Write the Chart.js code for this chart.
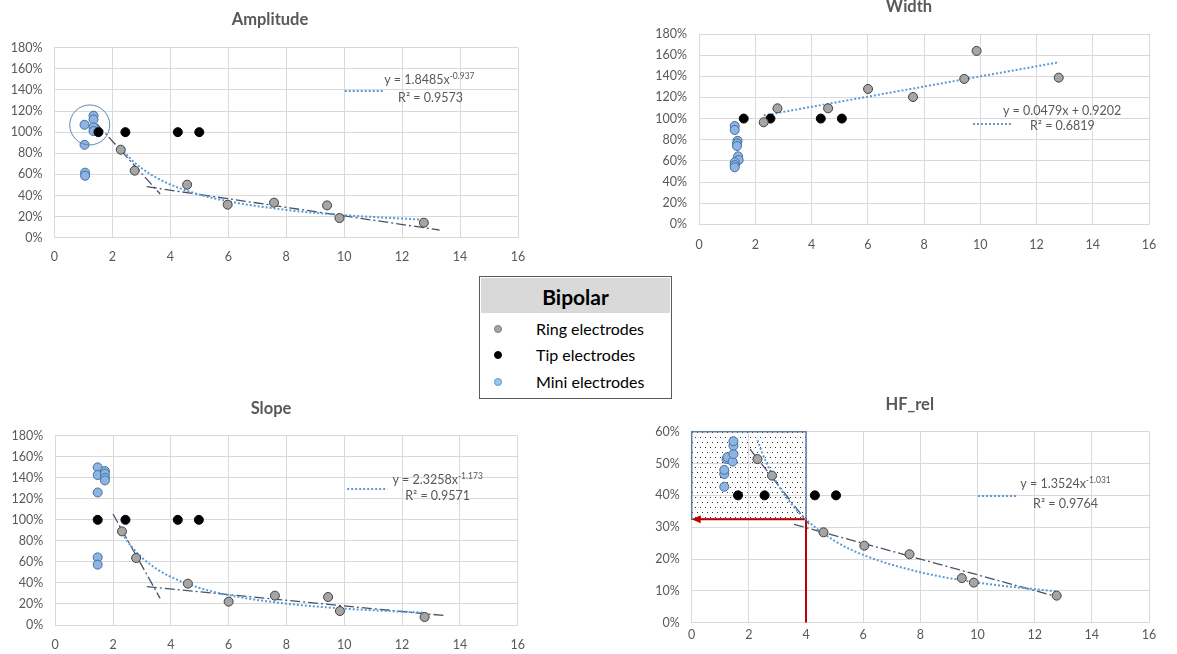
<!DOCTYPE html>
<html>
<head>
<meta charset="utf-8">
<script src="https://cdn.jsdelivr.net/npm/chart.js@4"></script>
<style>
  body { margin: 0; background: #fff; width: 1177px; height: 654px; position: relative; overflow: hidden; font-family: Lato, sans-serif; }
  canvas { position: absolute; }
  #legend { position: absolute; left: 479px; top: 276px; width: 191px; height: 121px; border: 1px solid #595959; background: #fff; }
  #legend .head { margin: 1px; height: 35px; background: #d9d9d9; font-weight: bold; font-size: 21px; text-align: center; line-height: 37px; color: #000; }
  #legend .row { position: absolute; left: 0; height: 20px; line-height: 20px; font-size: 16px; color: #000; }
  #legend .dot { position: absolute; left: 14px; top: 6px; width: 6px; height: 6px; border-radius: 50%; }
  #legend .txt { position: absolute; left: 56px; white-space: nowrap; }
</style>
</head>
<body>
<canvas id="amp" width="540" height="270" style="left:0;top:0"></canvas>
<canvas id="wid" width="528" height="270" style="left:645px;top:-10px"></canvas>
<canvas id="slo" width="542" height="269" style="left:0;top:385px"></canvas>
<canvas id="hfr" width="543" height="269" style="left:638px;top:385px"></canvas>

<div id="legend">
  <div class="head">Bipolar</div>
  <div class="row" style="top:42px"><span class="dot" style="background:#a5a5a5;border:1px solid #7f7f7f"></span><span class="txt">Ring electrodes</span></div>
  <div class="row" style="top:68px"><span class="dot" style="background:#000;border:1px solid #000"></span><span class="txt">Tip electrodes</span></div>
  <div class="row" style="top:95px"><span class="dot" style="background:#9dc3e6;border:1px solid #5b9bd5"></span><span class="txt">Mini electrodes</span></div>
</div>

<script>
// ---- Amplitude ----
const ampMiniX = [1.04, 1.04, 1.06, 1.06, 1.35, 1.35, 1.35, 1.35];
const ampMiniY = [1.07, 0.88, 0.616, 0.587, 1.156, 1.12, 1.045, 1.01];
const ampTipX = [1.52, 2.45, 4.26, 5.0];
const ampTipY = [1, 1, 1, 1];
const ampRingX = [2.29, 2.77, 4.58, 5.98, 7.58, 9.41, 9.84, 12.75];
const ampRingY = [0.834, 0.635, 0.502, 0.313, 0.332, 0.306, 0.186, 0.142];
const ampFitX = [2.3, 2.6, 3, 3.5, 4, 5, 6, 8, 10, 12.75];
const ampFitY = [0.847, 0.755, 0.66, 0.572, 0.504, 0.409, 0.345, 0.263, 0.214, 0.17];
const ampSeg1X = [1.46, 3.65], ampSeg1Y = [1.08, 0.414];
const ampSeg2X = [3.19, 13.29], ampSeg2Y = [0.483, 0.073];

// ---- Width ----
const widMiniX = [1.27, 1.27, 1.37, 1.35, 1.35, 1.39, 1.41, 1.27, 1.27, 1.27];
const widMiniY = [0.93, 0.892, 0.79, 0.765, 0.74, 0.643, 0.608, 0.586, 0.56, 0.539];
const widTipX = [1.59, 2.54, 4.33, 5.08];
const widTipY = [1, 1, 1, 1];
const widRingX = [2.3, 2.79, 4.59, 6.01, 7.61, 9.43, 9.87, 12.79];
const widRingY = [0.965, 1.097, 1.097, 1.28, 1.204, 1.375, 1.64, 1.387];
const widFitX = [2.3, 12.8];
const widFitY = [1.03, 1.533];

// ---- Slope ----
const sloMiniX = [1.47, 1.47, 1.47, 1.47, 1.47, 1.72, 1.72, 1.72, 1.72];
const sloMiniY = [1.499, 1.426, 1.26, 0.643, 0.574, 1.464, 1.439, 1.4, 1.375];
const sloTipX = [1.47, 2.43, 4.24, 4.97];
const sloTipY = [1, 1, 1, 1];
const sloRingX = [2.31, 2.8, 4.59, 6.0, 7.6, 9.44, 9.85, 12.78];
const sloRingY = [0.89, 0.637, 0.393, 0.222, 0.279, 0.266, 0.133, 0.076];
const sloFitX = [2.31, 2.6, 3, 3.5, 4, 5, 6, 8, 10, 12.78];
const sloFitY = [0.871, 0.758, 0.641, 0.535, 0.4575, 0.352, 0.284, 0.203, 0.156, 0.117];
const sloSeg1X = [2.0, 3.63], sloSeg1Y = [1.055, 0.253];
const sloSeg2X = [3.17, 13.49], sloSeg2Y = [0.364, 0.089];

// ---- HF_rel ----
const hfMiniX = [1.14, 1.14, 1.14, 1.22, 1.25, 1.43, 1.46, 1.46, 1.46];
const hfMiniY = [0.427, 0.467, 0.48, 0.514, 0.52, 0.506, 0.53, 0.556, 0.57];
const hfTipX = [1.62, 2.55, 4.31, 5.05];
const hfTipY = [0.4, 0.4, 0.4, 0.4];
const hfRingX = [2.3, 2.81, 4.61, 6.04, 7.62, 9.45, 9.87, 12.77];
const hfRingY = [0.514, 0.462, 0.284, 0.242, 0.215, 0.14, 0.126, 0.085];
const hfFitX = [2.3, 2.6, 3, 3.5, 4, 5, 6, 8, 10, 12.77];
const hfFitY = [0.573, 0.505, 0.436, 0.372, 0.324, 0.257, 0.213, 0.1585, 0.126, 0.098];
const hfSeg1X = [2.04, 4.1], hfSeg1Y = [0.545, 0.31];
const hfSeg2X = [3.58, 12.77], hfSeg2Y = [0.309, 0.082];
const hfArrowX = [4, 4, 0.15];
const hfArrowY = [0, 0.325, 0.325];

const xTicks = [0, 2, 4, 6, 8, 10, 12, 14, 16];

Chart.defaults.font.family = "Lato";
Chart.defaults.color = "#595959";

const pts = (xs, ys) => xs.map((x, i) => ({ x, y: ys[i] }));

const marker = (data, bg, border, order) => ({
  data, backgroundColor: bg, borderColor: border, borderWidth: 1,
  pointRadius: 4.5, pointHoverRadius: 4.5, showLine: false, order,
});
const fitLine = (data) => ({
  data, borderColor: "#5b9bd5", borderWidth: 2, borderDash: [2, 2],
  pointRadius: 0, showLine: true, cubicInterpolationMode: "monotone", order: 3,
});
const dashDot = (data) => ({
  data, borderColor: "#44546a", borderWidth: 1.3, borderDash: [10, 3, 2, 3],
  pointRadius: 0, showLine: true, order: 4,
});

// title, trendline label, sample line, circle, dotted box
const extras = (ex) => ({
  id: "extras",
  beforeDatasetsDraw(chart) {
    const { ctx, scales: { x, y } } = chart;
    if (ex.box) {
      const p = document.createElement("canvas");
      p.width = 10; p.height = 10;
      const pc = p.getContext("2d");
      pc.fillStyle = "#333";
      pc.fillRect(2, 2, 1, 1);
      pc.fillRect(7, 2, 1, 1);
      pc.fillRect(4, 7, 1, 1);
      pc.fillRect(9, 7, 1, 1);
      const l = x.getPixelForValue(ex.box[0]), r = x.getPixelForValue(ex.box[1]);
      const t = y.getPixelForValue(ex.box[3]), b = y.getPixelForValue(ex.box[2]);
      ctx.save();
      ctx.fillStyle = ctx.createPattern(p, "repeat");
      ctx.fillRect(l, t, r - l, b - t);
      ctx.strokeStyle = "#5a7da3";
      ctx.lineWidth = 1.5;
      ctx.strokeRect(l, t, r - l, b - t);
      ctx.restore();
    }
  },
  afterDatasetsDraw(chart) {
    const { ctx, scales: { x, y } } = chart;
    ctx.save();
    if (ex.circle) {
      ctx.beginPath();
      ctx.arc(x.getPixelForValue(ex.circle[0]), y.getPixelForValue(ex.circle[1]), ex.circle[2], 0, Math.PI * 2);
      ctx.strokeStyle = "#5b87b5";
      ctx.lineWidth = 1;
      ctx.stroke();
    }
    if (ex.arrow) {
      const ax = x.getPixelForValue(ex.arrow[0]), ay = y.getPixelForValue(ex.arrow[1]);
      ctx.beginPath();
      ctx.moveTo(ax, ay);
      ctx.lineTo(ax + 9, ay - 4);
      ctx.lineTo(ax + 9, ay + 4);
      ctx.closePath();
      ctx.fillStyle = "#c00000";
      ctx.fill();
    }
    const s = ex.sample;
    ctx.beginPath();
    ctx.setLineDash([2, 2]);
    ctx.strokeStyle = "#5b9bd5";
    ctx.lineWidth = 2;
    const sy = Math.round(y.getPixelForValue(s[2]));
    ctx.moveTo(x.getPixelForValue(s[0]), sy);
    ctx.lineTo(x.getPixelForValue(s[1]), sy);
    ctx.stroke();
    ctx.setLineDash([]);

    ctx.fillStyle = "#595959";
    ctx.textBaseline = "middle";

    // chart title
    ctx.textAlign = "center";
    ctx.font = "bold 16.5px Lato";
    ctx.fillText(ex.title, ex.titleAt[0], ex.titleAt[1]);

    ctx.textAlign = "left";
    const cx = x.getPixelForValue(ex.eqAt[0]), cy = y.getPixelForValue(ex.eqAt[1]);
    ctx.font = "12.5px Lato";
    const w1 = ctx.measureText(ex.eq).width;
    ctx.font = "8.5px Lato";
    const w2 = ex.sup ? ctx.measureText(ex.sup).width : 0;
    const x0 = cx - (w1 + w2) / 2;
    ctx.font = "12.5px Lato";
    ctx.fillText(ex.eq, x0, cy);
    if (ex.sup) {
      ctx.font = "8.5px Lato";
      ctx.fillText(ex.sup, x0 + w1, cy - 4);
    }
    ctx.font = "12.5px Lato";
    ctx.textAlign = "center";
    ctx.fillText(ex.r2, x.getPixelForValue(ex.r2At[0]), y.getPixelForValue(ex.r2At[1]));
    ctx.restore();
  },
});

const makeChart = (id, cfg) => new Chart(document.getElementById(id), {
  type: "scatter",
  data: { datasets: cfg.datasets },
  options: {
    responsive: false,
    animation: false,
    events: [],
    layout: { padding: { left: 0, right: cfg.right, top: cfg.top, bottom: 0 } },
    plugins: {
      legend: { display: false },
      tooltip: { enabled: false },
      title: { display: false },
    },
    scales: {
      x: {
        type: "linear", min: 0, max: 16,
        afterBuildTicks: (s) => { s.ticks = xTicks.map((v) => ({ value: v })); },
        afterFit: (s) => { s.height = cfg.xHeight; },
        grid: { color: "#d9d9d9", drawTicks: false },
        border: { color: "#d9d9d9" },
        ticks: { padding: cfg.xPad, font: { size: 12.5 }, color: "#595959", maxRotation: 0 },
      },
      y: {
        min: 0, max: cfg.yMax,
        afterFit: (s) => { s.width = cfg.yWidth; },
        grid: { color: "#d9d9d9", drawTicks: false },
        border: { color: "#d9d9d9" },
        ticks: {
          stepSize: cfg.yStep, padding: 12, font: { size: 12.5 }, color: "#595959",
          callback: (v) => Math.round(v * 100) + "%",
        },
      },
    },
  },
  plugins: [extras(cfg.extras)],
});

makeChart("amp", {
  right: 22, top: 47.7,
  xHeight: 32.3, xPad: 12, yWidth: 54.4, yMax: 1.8, yStep: 0.2,
  datasets: [
    marker(pts(ampRingX, ampRingY), "#a5a5a5", "#404040", 0),
    marker(pts(ampTipX, ampTipY), "#000000", "#000000", 1),
    marker(pts(ampMiniX, ampMiniY), "#8eb4e3", "#41719c", 2),
    fitLine(pts(ampFitX, ampFitY)),
    dashDot(pts(ampSeg1X, ampSeg1Y)),
    dashDot(pts(ampSeg2X, ampSeg2Y)),
  ],
  extras: {
    title: "Amplitude", titleAt: [270, 20],
    eq: "y = 1.8485x", sup: "-0.937", eqAt: [12.94, 1.494],
    r2: "R² = 0.9573", r2At: [12.98, 1.323], sample: [10.02, 11.4, 1.39],
    circle: [1.22, 1.068, 20],
  },
});

makeChart("wid", {
  right: 24, top: 44,
  xHeight: 35.7, xPad: 13.5, yWidth: 54, yMax: 1.8, yStep: 0.2,
  datasets: [
    marker(pts(widRingX, widRingY), "#a5a5a5", "#404040", 0),
    marker(pts(widTipX, widTipY), "#000000", "#000000", 1),
    marker(pts(widMiniX, widMiniY), "#8eb4e3", "#41719c", 2),
    fitLine(pts(widFitX, widFitY)),
  ],
  extras: {
    title: "Width", titleAt: [264, 17],
    eq: "y = 0.0479x + 0.9202", sup: "", eqAt: [12.91, 1.072],
    r2: "R² = 0.6819", r2At: [12.92, 0.929], sample: [9.74, 11.09, 0.95],
  },
});

makeChart("slo", {
  right: 24.3, top: 50.7,
  xHeight: 29, xPad: 12, yWidth: 55.2, yMax: 1.8, yStep: 0.2,
  datasets: [
    marker(pts(sloRingX, sloRingY), "#a5a5a5", "#404040", 0),
    marker(pts(sloTipX, sloTipY), "#000000", "#000000", 1),
    marker(pts(sloMiniX, sloMiniY), "#8eb4e3", "#41719c", 2),
    fitLine(pts(sloFitX, sloFitY)),
    dashDot(pts(sloSeg1X, sloSeg1Y)),
    dashDot(pts(sloSeg2X, sloSeg2Y)),
  ],
  extras: {
    title: "Slope", titleAt: [271, 24],
    eq: "y = 2.3258x", sup: "-1.173", eqAt: [13.23, 1.379],
    r2: "R² = 0.9571", r2At: [13.23, 1.227], sample: [10.1, 11.49, 1.293],
  },
});

makeChart("hfr", {
  right: 32, top: 46.7,
  xHeight: 31.3, xPad: 5, yWidth: 53.7, yMax: 0.6, yStep: 0.1,
  datasets: [
    marker(pts(hfRingX, hfRingY), "#a5a5a5", "#404040", 0),
    marker(pts(hfTipX, hfTipY), "#000000", "#000000", 1),
    marker(pts(hfMiniX, hfMiniY), "#8eb4e3", "#41719c", 2),
    fitLine(pts(hfFitX, hfFitY)),
    dashDot(pts(hfSeg1X, hfSeg1Y)),
    dashDot(pts(hfSeg2X, hfSeg2Y)),
    { data: pts(hfArrowX, hfArrowY), borderColor: "#c00000", borderWidth: 2,
      pointRadius: 0, showLine: true, order: 5 },
  ],
  extras: {
    title: "HF_rel", titleAt: [271.7, 19.3],
    eq: "y = 1.3524x", sup: "-1.031", eqAt: [13.08, 0.436],
    r2: "R² = 0.9764", r2At: [13.08, 0.373], sample: [10.02, 11.42, 0.398],
    box: [0, 4, 0.325, 0.6], arrow: [0, 0.325],
  },
});
</script>
</body>
</html>
